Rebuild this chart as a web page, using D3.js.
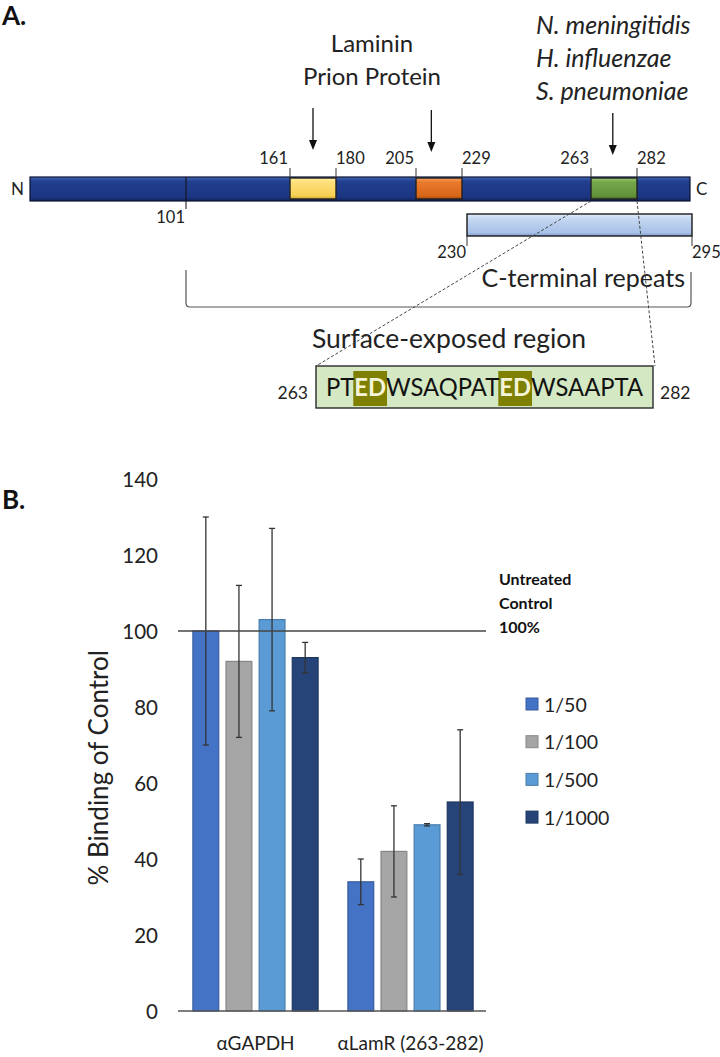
<!DOCTYPE html>
<html>
<head>
<meta charset="utf-8">
<script src="https://cdn.jsdelivr.net/npm/d3@7"></script>
<style>
  body { margin: 0; background: #fff; }
  text { font-family: Lato, "Open Sans", sans-serif; fill: #222; }
</style>
</head>
<body>
<svg id="fig" width="720" height="1057"></svg>
<script>
// ---- panel A data ----
var residueStops = [1, 101, 161, 180, 205, 229, 230, 263, 282, 295];
var residueAxis = [30, 186, 290, 336, 416, 462, 467, 591, 637, 690];
var bindingSites = [[161, 180], [205, 229], [263, 282]];
var siteFills = ["gYellow", "gOrange", "gGreen"];
var siteTicks = [161, 180, 205, 229, 263, 282];
var siteTickSide = ["end", "start", "end", "start", "end", "start"];
var arrowAt = [170.5, 213, 272];
var repeatRegion = [230, 295];
var exposedSpan = [101, 295];
var ligandLabels = [["Laminin", "Prion Protein"], [], ["N. meningitidis", "H. influenzae", "S. pneumoniae"]];
var peptide = "PTEDWSAQPATEDWSAAPTA";
var peptideHighlights = [[2, 4], [11, 13]];

// ---- panel B data ----
var groups = ["\u03b1GAPDH", "\u03b1LamR (263-282)"];
var dilutions = ["1/50", "1/100", "1/500", "1/1000"];
var gapdhMeans = [100, 92, 103, 93];
var gapdhErr = [30, 20, 24, 4];
var lamrMeans = [34, 42, 49, 55];
var lamrErr = [6, 12, 0.3, 19];
var yTicks = [0, 20, 40, 60, 80, 100, 120, 140];
var controlLevel = 100;
var dilutionColors = ["#4472c4", "#a5a5a5", "#5b9bd5", "#264478"];

var svg = d3.select("#fig");
var defs = svg.append("defs");

function vGrad(id, stops) {
    var g = defs.append("linearGradient").attr("id", id)
        .attr("x1", 0).attr("y1", 0).attr("x2", 0).attr("y2", 1);
    stops.forEach(function (s) {
        g.append("stop").attr("offset", s[0]).attr("stop-color", s[1]);
    });
}
vGrad("gNavy", [[0, "#4566b5"], [0.18, "#213f90"], [0.85, "#1b3580"], [1, "#0f2358"]]);
vGrad("gYellow", [[0, "#fff0a0"], [0.2, "#ffe07a"], [0.85, "#f7cf52"], [1, "#c9a030"]]);
vGrad("gOrange", [[0, "#f6a060"], [0.2, "#ea7a2c"], [0.85, "#d8661a"], [1, "#a24a10"]]);
vGrad("gGreen", [[0, "#9cc870"], [0.2, "#74a64a"], [0.85, "#62923a"], [1, "#456b26"]]);
vGrad("gPale", [[0, "#e2ecfa"], [0.2, "#c6d8f2"], [0.85, "#a8c1e8"], [1, "#7f9ccc"]]);

// ================= Panel A =================
var rx = d3.scaleLinear().domain(residueStops).range(residueAxis);
var A = svg.append("g");

A.append("text").attr("x", 2).attr("y", 25)
    .style("font-size", "26px").style("font-weight", "bold").style("fill", "#111").text("A.");

var barTop = 177, barH = 24;
A.append("rect").attr("x", rx(1)).attr("y", barTop)
    .attr("width", rx(295) - rx(1)).attr("height", barH)
    .attr("fill", "url(#gNavy)").attr("stroke", "#0a1530").attr("stroke-width", 1.2);
A.append("text").attr("x", rx(1) - 6).attr("y", barTop + 18).attr("text-anchor", "end")
    .style("font-size", "17px").text("N");
A.append("text").attr("x", rx(295) + 6).attr("y", barTop + 18)
    .style("font-size", "17px").text("C");

// 101 marker
A.append("line").attr("x1", rx(101)).attr("x2", rx(101))
    .attr("y1", barTop).attr("y2", barTop + barH + 8)
    .attr("stroke", "#111").attr("stroke-width", 1);
A.append("text").attr("x", rx(101) - 1).attr("y", 223).attr("text-anchor", "end")
    .style("font-size", "16.5px").text("101");

A.selectAll("rect.site").data(bindingSites).enter().append("rect")
    .attr("class", "site")
    .attr("x", function (d) { return rx(d[0]); })
    .attr("y", barTop + 1)
    .attr("width", function (d) { return rx(d[1]) - rx(d[0]); })
    .attr("height", barH - 3)
    .attr("fill", function (d, i) { return "url(#" + siteFills[i] + ")"; })
    .attr("stroke", "#222").attr("stroke-width", 1.4);

A.selectAll("line.stick").data(siteTicks).enter().append("line")
    .attr("x1", function (d) { return rx(d); }).attr("x2", function (d) { return rx(d); })
    .attr("y1", barTop - 9).attr("y2", barTop)
    .attr("stroke", "#333").attr("stroke-width", 1);
A.selectAll("text.stick").data(siteTicks).enter().append("text")
    .attr("x", function (d, i) { return rx(d) + (siteTickSide[i] == "end" ? -2 : 0); })
    .attr("y", 164)
    .attr("text-anchor", function (d, i) { return siteTickSide[i]; })
    .style("font-size", "16.5px").text(function (d) { return d; });

// arrows
var arrowTop = [108, 110, 113], arrowTip = [150, 152, 155];
arrowAt.forEach(function (r, i) {
    var x = rx(r);
    A.append("line").attr("x1", x).attr("x2", x).attr("y1", arrowTop[i]).attr("y2", arrowTip[i] - 8)
        .attr("stroke", "#111").attr("stroke-width", 1.3);
    A.append("path")
        .attr("d", "M" + (x - 4) + "," + (arrowTip[i] - 10) + "L" + (x + 4) + "," + (arrowTip[i] - 10) + "L" + x + "," + arrowTip[i] + "Z")
        .attr("fill", "#111");
});

// ligand labels
A.selectAll("text.lam").data(ligandLabels[0]).enter().append("text")
    .attr("x", 372).attr("y", function (d, i) { return 52 + i * 33; })
    .attr("text-anchor", "middle").style("font-size", "24px").text(function (d) { return d; });
A.selectAll("text.bug").data(ligandLabels[2]).enter().append("text")
    .attr("x", 536).attr("y", function (d, i) { return 34 + i * 33; })
    .style("font-size", "25px").style("font-style", "italic").text(function (d) { return d; });

// C-terminal repeat bar
var repTop = 214, repH = 22;
A.append("rect").attr("x", rx(repeatRegion[0])).attr("y", repTop)
    .attr("width", rx(repeatRegion[1]) + 2 - rx(repeatRegion[0])).attr("height", repH)
    .attr("fill", "url(#gPale)").attr("stroke", "#1a1a1a").attr("stroke-width", 1.4);
repeatRegion.forEach(function (r, i) {
    var x = rx(r) + (i ? 2 : 0);
    A.append("line").attr("x1", x).attr("x2", x).attr("y1", repTop + repH).attr("y2", repTop + repH + 10)
        .attr("stroke", "#333");
    A.append("text").attr("x", i ? x : x - 1).attr("y", 258)
        .attr("text-anchor", i ? "start" : "end").style("font-size", "16.5px").text(r);
});
A.append("text").attr("x", 685).attr("y", 287).attr("text-anchor", "end")
    .style("font-size", "25px").text("C-terminal repeats");

// bracket for the surface exposed span
var bx0 = rx(exposedSpan[0]), bx1 = rx(exposedSpan[1]) + 1, by = 307, rr = 4;
A.append("path")
    .attr("d", "M" + bx0 + ",270 L" + bx0 + "," + (by - rr) + " Q" + bx0 + "," + by + " " + (bx0 + rr) + "," + by +
        " L" + (bx1 - rr) + "," + by + " Q" + bx1 + "," + by + " " + bx1 + "," + (by - rr) + " L" + bx1 + ",272")
    .attr("fill", "none").attr("stroke", "#555").attr("stroke-width", 1.2);

A.append("text").attr("x", 449).attr("y", 348).attr("text-anchor", "middle")
    .style("font-size", "26.5px").text("Surface-exposed region");

// peptide box
var px0 = 316, px1 = 653, py0 = 366, py1 = 408;
A.append("line").attr("x1", rx(263)).attr("y1", barTop + barH).attr("x2", px0).attr("y2", py0)
    .attr("stroke", "#444").attr("stroke-dasharray", "3,2").attr("stroke-width", 1);
A.append("line").attr("x1", rx(282)).attr("y1", barTop + barH).attr("x2", px1 + 2).attr("y2", py0)
    .attr("stroke", "#444").attr("stroke-dasharray", "3,2").attr("stroke-width", 1);
A.append("rect").attr("x", px0).attr("y", py0).attr("width", px1 - px0).attr("height", py1 - py0)
    .attr("fill", "#d4e8c3").attr("stroke", "#2a2a2a").attr("stroke-width", 1.4);
var hiG = A.append("g");
var pep = A.append("text").attr("x", 326).attr("y", 396)
    .attr("textLength", 317).attr("lengthAdjust", "spacingAndGlyphs")
    .style("font-size", "25px");
pep.selectAll("tspan").data(peptide.split("")).enter().append("tspan")
    .style("fill", function (d, i) {
        return peptideHighlights.some(function (h) { return i >= h[0] && i < h[1]; }) ? "#f4f4d8" : "#111";
    })
    .style("font-weight", function (d, i) {
        return peptideHighlights.some(function (h) { return i >= h[0] && i < h[1]; }) ? "bold" : "normal";
    })
    .text(function (d) { return d; });
var pnode = pep.node();
peptideHighlights.forEach(function (h) {
    var a = pnode.getStartPositionOfChar(h[0]).x;
    var b = pnode.getEndPositionOfChar(h[1] - 1).x;
    hiG.append("rect").attr("x", a - 1).attr("y", py0 + 5).attr("width", b - a + 2).attr("height", py1 - py0 - 7)
        .attr("fill", "#7f7f00");
});
A.append("text").attr("x", px0 - 8).attr("y", 399).attr("text-anchor", "end").style("font-size", "17.5px").text("263");
A.append("text").attr("x", px1 + 7).attr("y", 399).style("font-size", "17.5px").text("282");

// ================= Panel B =================
var B = svg.append("g");
B.append("text").attr("x", 2).attr("y", 509)
    .style("font-size", "26px").style("font-weight", "bold").style("fill", "#111").text("B.");

var x0 = d3.scaleBand().domain(groups).range([178, 488]);
var x1 = d3.scaleBand().domain(dilutions).range([0, x0.bandwidth()]).paddingInner(0.22).paddingOuter(0.45);
var y = d3.scaleLinear().domain([0, 140]).range([1011, 479]);

var series = [
    { group: groups[0], means: gapdhMeans, err: gapdhErr },
    { group: groups[1], means: lamrMeans, err: lamrErr }
];

var yAxis = d3.axisLeft(y).tickValues(yTicks).tickSize(0).tickPadding(0);
var ya = B.append("g").attr("transform", "translate(158,0)").call(yAxis);
ya.select(".domain").remove();
ya.selectAll("text").style("font-size", "20.5px").style("font-family", "Lato, sans-serif").attr("fill", "#222").attr("dy", "0.35em");

B.append("text")
    .attr("transform", "translate(108," + y(64) + ") rotate(-90)")
    .attr("text-anchor", "middle").style("font-size", "26px").text("% Binding of Control");

var gs = B.selectAll("g.grp").data(series).enter().append("g")
    .attr("transform", function (d) { return "translate(" + x0(d.group) + ",0)"; });

gs.selectAll("rect").data(function (d) { return d.means; }).enter().append("rect")
    .attr("x", function (d, i) { return x1(dilutions[i]); })
    .attr("y", function (d) { return y(d); })
    .attr("width", x1.bandwidth())
    .attr("height", function (d) { return y(0) - y(d); })
    .attr("fill", function (d, i) { return dilutionColors[i]; })
    .attr("stroke", function (d, i) { return d3.color(dilutionColors[i]).darker(0.6); })
    .attr("stroke-width", 1.2);

gs.each(function (s) {
    var g = d3.select(this);
    s.means.forEach(function (m, i) {
        var cx = x1(dilutions[i]) + x1.bandwidth() / 2;
        var lo = y(m - s.err[i]), hi = y(m + s.err[i]);
        g.append("line").attr("x1", cx).attr("x2", cx).attr("y1", lo).attr("y2", hi)
            .attr("stroke", "#333").attr("stroke-width", 1.3);
        [lo, hi].forEach(function (yy) {
            g.append("line").attr("x1", cx - 3).attr("x2", cx + 3).attr("y1", yy).attr("y2", yy)
                .attr("stroke", "#333").attr("stroke-width", 1.3);
        });
    });
});

// baseline and control line
B.append("line").attr("x1", 178).attr("x2", 486).attr("y1", y(0)).attr("y2", y(0))
    .attr("stroke", "#555").attr("stroke-width", 1.3);
B.append("line").attr("x1", 178).attr("x2", 486).attr("y1", y(controlLevel)).attr("y2", y(controlLevel))
    .attr("stroke", "#444").attr("stroke-width", 1.3);
B.selectAll("text.ctl").data(["Untreated", "Control", controlLevel + "%"]).enter().append("text")
    .attr("x", 499).attr("y", function (d, i) { return y(controlLevel) - 46 + i * 24; })
    .style("font-size", "16px").style("font-weight", "bold").style("fill", "#111").text(function (d) { return d; });

// x labels
B.selectAll("text.xl").data(groups).enter().append("text")
    .attr("x", function (d) { return x0(d) + x0.bandwidth() / 2; })
    .attr("y", 1050).attr("text-anchor", "middle").style("font-size", "19px")
    .text(function (d) { return d; });

// legend
var lg = B.selectAll("g.leg").data(dilutions).enter().append("g")
    .attr("transform", function (d, i) { return "translate(526," + (704 + i * 37.7) + ")"; });
lg.append("rect").attr("x", 0).attr("y", -6).attr("width", 12).attr("height", 12)
    .attr("fill", function (d, i) { return dilutionColors[i]; })
    .attr("stroke", function (d, i) { return d3.color(dilutionColors[i]).darker(0.6); });
lg.append("text").attr("x", 18).attr("y", 7.5).style("font-size", "19.5px").text(function (d) { return d; });
</script>
</body>
</html>
